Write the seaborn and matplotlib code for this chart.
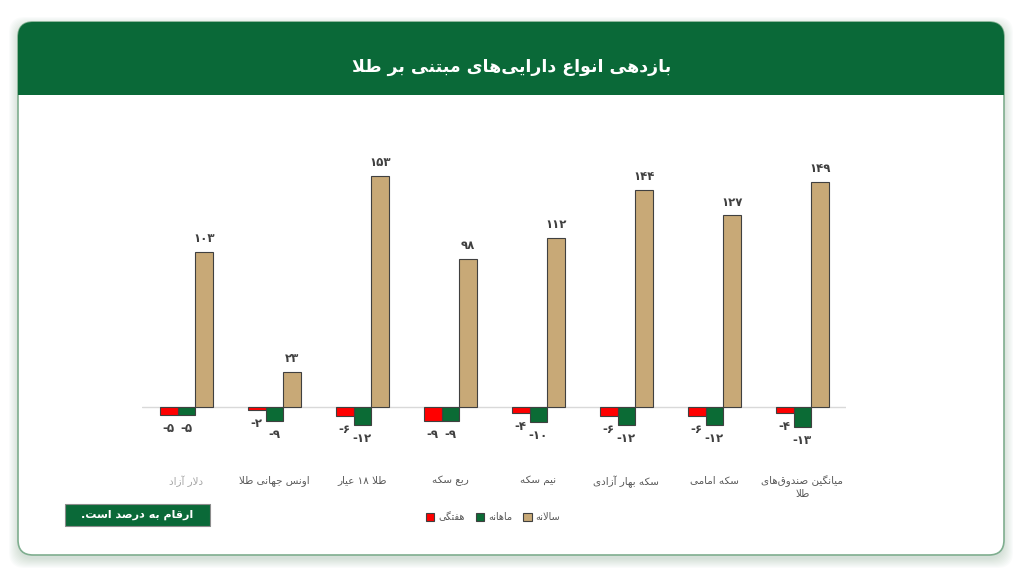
import re
import numpy as np
import pandas as pd
import seaborn as sns
import matplotlib.pyplot as plt
from matplotlib.patches import FancyBboxPatch, Rectangle, Patch

# data
categories = ["دلار آزاد", "اونس جهانی طلا", "طلا ۱۸ عیار", "ربع سکه", "نیم سکه",
              "سکه بهار آزادی", "سکه امامی", "میانگین صندوق‌های\nطلا"]
series = ["هفتگی", "ماهانه", "سالانه"]
weekly = [-5, -2, -6, -9, -4, -6, -6, -4]
monthly = [-5, -9, -12, -9, -10, -12, -12, -13]
yearly = [103, 23, 153, 98, 112, 144, 127, 149]
title = "بازدهی انواع دارایی‌های مبتنی بر طلا"
note = "ارقام به درصد است."

colors = ["#ff0000", "#0b6b35", "#c8a977"]
GREEN = "#0a6938"

# minimal arabic/persian shaping (matplotlib does no shaping or bidi)
FORMS = {
    'ا': ('\uFE8D', '\uFE8E', None, None), 'آ': ('\uFE81', '\uFE82', None, None),
    'ب': ('\uFE8F', '\uFE90', '\uFE91', '\uFE92'), 'ت': ('\uFE95', '\uFE96', '\uFE97', '\uFE98'),
    'ج': ('\uFE9D', '\uFE9E', '\uFE9F', '\uFEA0'), 'د': ('\uFEA9', '\uFEAA', None, None),
    'ر': ('\uFEAD', '\uFEAE', None, None), 'ز': ('\uFEAF', '\uFEB0', None, None),
    'س': ('\uFEB1', '\uFEB2', '\uFEB3', '\uFEB4'), 'ص': ('\uFEB9', '\uFEBA', '\uFEBB', '\uFEBC'),
    'ط': ('\uFEC1', '\uFEC2', '\uFEC3', '\uFEC4'), 'ع': ('\uFEC9', '\uFECA', '\uFECB', '\uFECC'),
    'ف': ('\uFED1', '\uFED2', '\uFED3', '\uFED4'), 'ق': ('\uFED5', '\uFED6', '\uFED7', '\uFED8'),
    'ل': ('\uFEDD', '\uFEDE', '\uFEDF', '\uFEE0'), 'م': ('\uFEE1', '\uFEE2', '\uFEE3', '\uFEE4'),
    'ن': ('\uFEE5', '\uFEE6', '\uFEE7', '\uFEE8'), 'ه': ('\uFEE9', '\uFEEA', '\uFEEB', '\uFEEC'),
    'و': ('\uFEED', '\uFEEE', None, None), 'ی': ('\uFBFC', '\uFBFD', '\uFBFE', '\uFBFF'),
    'ک': ('\uFB8E', '\uFB8F', '\uFB90', '\uFB91'), 'گ': ('\uFB92', '\uFB93', '\uFB94', '\uFB95'),
}
LAM_ALEF = {'ا': ('\uFEFB', '\uFEFC'), 'آ': ('\uFEF5', '\uFEF6')}


def shape_line(text):
    out = []
    prev = False
    i = 0
    while i < len(text):
        c = text[i]
        nxt = text[i + 1] if i + 1 < len(text) else ''
        if c == 'ل' and nxt in LAM_ALEF:
            out.append(LAM_ALEF[nxt][1 if prev else 0])
            prev = False
            i += 2
            continue
        if c in FORMS:
            iso, fin, ini, med = FORMS[c]
            can_next = ini is not None and nxt in FORMS
            if prev and can_next:
                out.append(med)
            elif prev:
                out.append(fin)
            elif can_next:
                out.append(ini)
            else:
                out.append(iso)
            prev = can_next
        elif c == '\u200c':
            prev = False
        else:
            out.append(c)
            prev = False
        i += 1
    vis = ''.join(out)[::-1]
    return re.sub(r'[0-9۰-۹]+', lambda m: m.group(0)[::-1], vis)


def fa(text):
    return '\n'.join(shape_line(l) for l in text.split('\n'))


def fa_num(v):
    s = str(abs(v)).translate(str.maketrans('0123456789', '۰۱۲۳۴۵۶۷۸۹'))
    return ('-' if v < 0 else '') + s


df = pd.DataFrame({
    "cat": categories * 3,
    "series": [s for s in series for _ in categories],
    "value": weekly + monthly + yearly,
})

sns.set_style("white")
plt.rcParams['font.family'] = ['DejaVu Sans']

fig = plt.figure(figsize=(10.24, 5.77), dpi=100)
fig.patch.set_facecolor("white")

# background card drawn in pixel coordinates
bg = fig.add_axes([0, 0, 1, 1])
bg.set_xlim(0, 1024)
bg.set_ylim(577, 0)
bg.axis("off")
for k in range(10):
    bg.add_patch(FancyBboxPatch((18 - k, 22 - k + 4), 986 + 2 * k, 533 + 2 * k,
                                boxstyle="round,pad=0,rounding_size=16",
                                fc="#4f7f60", ec="none", alpha=0.025))
bg.add_patch(FancyBboxPatch((18, 22), 986, 533, boxstyle="round,pad=0,rounding_size=15",
                            fc="white", ec="#7fae8f", lw=1.2))
bg.add_patch(FancyBboxPatch((18, 22), 986, 73, boxstyle="round,pad=0,rounding_size=15",
                            fc=GREEN, ec="none"))
bg.add_patch(Rectangle((18, 60), 986, 35, fc=GREEN, ec="none"))
bg.text(512, 67, fa(title), color="white", fontsize=12.5, fontweight="bold",
        ha="center", va="center")
bg.add_patch(Rectangle((65, 504), 145, 22, fc=GREEN, ec="#8c8c8c", lw=0.8))
bg.text(137.5, 515, fa(note), color="white", fontsize=8, fontweight="bold",
        ha="center", va="center")

ax = fig.add_axes([0.139, 0.229, 0.6875, 0.497])
sns.barplot(data=df, x="cat", y="value", hue="series", order=categories,
            hue_order=series, palette=colors, width=0.6, edgecolor="#404040",
            linewidth=0.8, saturation=1, legend=False, ax=ax)
ax.set_ylim(-25, 165)
ax.set_xlim(-0.5, len(categories) - 0.5)
ax.axhline(0, color="#d9d9d9", lw=1, zorder=0)
for cont, vals in zip(ax.containers, [weekly, monthly, yearly]):
    ax.bar_label(cont, labels=[fa_num(v) for v in vals], padding=5,
                 fontsize=8.5, fontweight="bold", color="#404040")
ax.set_xticks(range(len(categories)))
ax.set_xticklabels([fa(c) for c in categories], fontsize=7.5, color="#595959",
                   multialignment="center")
ax.get_xticklabels()[0].set_color("#a6a6a6")
ax.tick_params(axis="x", length=0, pad=22)
ax.set_yticks([])
ax.set_xlabel("")
ax.set_ylabel("")
sns.despine(ax=ax, left=True, bottom=True)
ax.patch.set_alpha(0)

handles = [Patch(fc=c, ec="#404040", lw=0.8) for c in colors]
fig.legend(handles, [fa(s) for s in series], loc="center", bbox_to_anchor=(493 / 1024, 1 - 517 / 577),
           ncol=3, frameon=False, fontsize=7, handlelength=0.9, handleheight=0.9,
           handletextpad=0.4, columnspacing=1.1, labelcolor="#595959")

fig.savefig("out.png", dpi=100)
